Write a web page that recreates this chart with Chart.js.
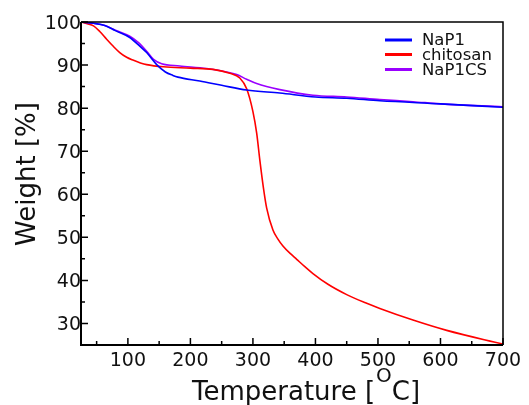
<!DOCTYPE html>
<html>
<head>
<meta charset="utf-8">
<script src="https://cdn.jsdelivr.net/npm/chart.js@4.4.1/dist/chart.umd.min.js"></script>
<style>
html,body{margin:0;padding:0;background:#fff;}
#wrap{width:529px;height:405px;}
</style>
</head>
<body>
<div id="wrap"><canvas id="c" width="529" height="405"></canvas></div>
<script>
// ---- data ----
const seriesNames = ["NaP1", "chitosan", "NaP1CS"];
const seriesColors = ["#0000ff", "#ff0000", "#9a00ff"];

const napTemps = [25, 45, 63, 80, 103, 119, 130, 146, 160, 172, 180, 215, 250, 290, 343, 400, 450, 503, 600, 700];
const napValues = [100, 99.7, 99.2, 98.0, 96.4, 94.4, 92.9, 90.1, 88.4, 87.6, 87.2, 86.3, 85.3, 84.2, 83.5, 82.6, 82.3, 81.7, 81.0, 80.2];

const chitTemps = [25, 35, 45, 55, 66, 77, 87, 98, 109, 120, 130, 157, 200, 236, 263, 279, 290, 300, 306, 311, 316.5, 322, 332, 340, 348, 360, 370, 383, 396, 420, 450, 480, 503, 556, 610, 700];
const chitValues = [100, 99.6, 99.1, 97.8, 96.0, 94.3, 92.9, 91.8, 91.1, 90.5, 90.1, 89.6, 89.3, 89.0, 88.1, 87.0, 84.5, 79.2, 74.2, 68.0, 61.8, 56.8, 51.7, 49.6, 48.0, 46.2, 44.9, 43.2, 41.6, 39.1, 36.7, 34.8, 33.5, 30.8, 28.4, 25.2];

const napcsTemps = [25, 45, 63, 80, 103, 117, 130, 141, 154, 183, 226, 258, 274, 290, 306, 343, 396, 450, 503, 556, 600, 700];
const napcsValues = [100, 99.7, 99.2, 98.1, 96.7, 95.2, 93.2, 91.3, 90.3, 89.8, 89.2, 88.4, 87.8, 86.7, 85.7, 84.3, 83.0, 82.6, 82.0, 81.5, 81.0, 80.3];

const xTicks = [100, 200, 300, 400, 500, 600, 700];
const xMinor = [50, 150, 250, 350, 450, 550, 650];
const yTicks = [30, 40, 50, 60, 70, 80, 90, 100];
const yMinor = [25, 35, 45, 55, 65, 75, 85, 95];
const xMin = 25, xMax = 700, yMin = 25, yMax = 100;

function pts(t, v) { return t.map((x, i) => ({x: x, y: v[i]})); }
const allSeries = [pts(napTemps, napValues), pts(chitTemps, chitValues), pts(napcsTemps, napcsValues)];

const FONT = "'DejaVu Sans', Verdana, sans-serif";

const framePlugin = {
  id: 'frame',
  afterDatasetsDraw(chart) {
    const ctx = chart.ctx, a = chart.chartArea;
    const xs = chart.scales.x, ys = chart.scales.y;
    ctx.save();
    ctx.strokeStyle = '#000';
    ctx.lineWidth = 1.5;
    ctx.beginPath();
    ctx.moveTo(a.left, a.top); ctx.lineTo(a.right, a.top); ctx.lineTo(a.right, a.bottom);
    ctx.stroke();
    ctx.lineWidth = 2;
    ctx.beginPath();
    ctx.moveTo(a.left, a.top); ctx.lineTo(a.left, a.bottom); ctx.lineTo(a.right, a.bottom);
    ctx.stroke();
    ctx.lineWidth = 1.5;
    ctx.beginPath();
    xTicks.forEach(v => { const p = xs.getPixelForValue(v); ctx.moveTo(p, a.bottom); ctx.lineTo(p, a.bottom - 7); });
    xMinor.forEach(v => { const p = xs.getPixelForValue(v); ctx.moveTo(p, a.bottom); ctx.lineTo(p, a.bottom - 4); });
    yTicks.forEach(v => { const p = ys.getPixelForValue(v); ctx.moveTo(a.left, p); ctx.lineTo(a.left + 7, p); });
    yMinor.forEach(v => { const p = ys.getPixelForValue(v); ctx.moveTo(a.left, p); ctx.lineTo(a.left + 4, p); });
    ctx.stroke();
    // legend
    const ly = [40, 54.5, 69.5];
    ctx.font = "16.5px " + FONT;
    ctx.textBaseline = 'middle';
    ctx.textAlign = 'left';
    seriesNames.forEach((n, i) => {
      ctx.strokeStyle = seriesColors[i];
      ctx.lineWidth = 3;
      ctx.beginPath(); ctx.moveTo(385, ly[i]); ctx.lineTo(412, ly[i]); ctx.stroke();
      ctx.fillStyle = '#111';
      ctx.fillText(n, 422, ly[i] + 1);
    });
    // y title
    ctx.fillStyle = '#111';
    ctx.save();
    ctx.translate(35, 174);
    ctx.rotate(-Math.PI / 2);
    ctx.font = "26px " + FONT;
    ctx.textAlign = 'center';
    ctx.textBaseline = 'alphabetic';
    ctx.fillText("Weight [%]", 0, 0);
    ctx.restore();
    // x title
    ctx.textAlign = 'left';
    ctx.textBaseline = 'alphabetic';
    let x = 192; const base = 400;
    ctx.font = "26px " + FONT;
    const p1 = "Temperature [";
    ctx.fillText(p1, x, base); x += ctx.measureText(p1).width;
    ctx.font = "20px " + FONT;
    ctx.fillText("O", x + 1, base - 18); x += ctx.measureText("O").width + 1;
    ctx.font = "26px " + FONT;
    ctx.fillText("C]", x, base);
    ctx.restore();
  }
};

new Chart(document.getElementById('c'), {
  type: 'line',
  data: {
    datasets: allSeries.map((d, i) => ({
      label: seriesNames[i],
      data: d,
      borderColor: seriesColors[i],
      backgroundColor: seriesColors[i],
      borderWidth: 1.6,
      pointRadius: 0,
      fill: false,
      cubicInterpolationMode: 'monotone'
    }))
  },
  options: {
    responsive: false,
    animation: false,
    layout: { padding: { left: 0, right: 26, top: 22, bottom: 0 } },
    plugins: { legend: { display: false }, tooltip: { enabled: false } },
    scales: {
      x: {
        type: 'linear', min: xMin, max: xMax,
        afterFit(s) { s.height = 60; },
        afterBuildTicks(s) { s.ticks = xTicks.map(v => ({value: v})); },
        grid: { display: false, drawTicks: false },
        border: { display: false },
        ticks: { font: { family: FONT, size: 19 }, color: '#111', padding: 5, maxRotation: 0, autoSkip: false }
      },
      y: {
        type: 'linear', min: yMin, max: yMax,
        afterFit(s) { s.width = 81; },
        afterBuildTicks(s) { s.ticks = yTicks.map(v => ({value: v})); },
        grid: { display: false, drawTicks: false },
        border: { display: false },
        ticks: { font: { family: FONT, size: 19 }, color: '#111', padding: 0, labelOffset: 2, autoSkip: false }
      }
    }
  },
  plugins: [framePlugin]
});
</script>
</body>
</html>
